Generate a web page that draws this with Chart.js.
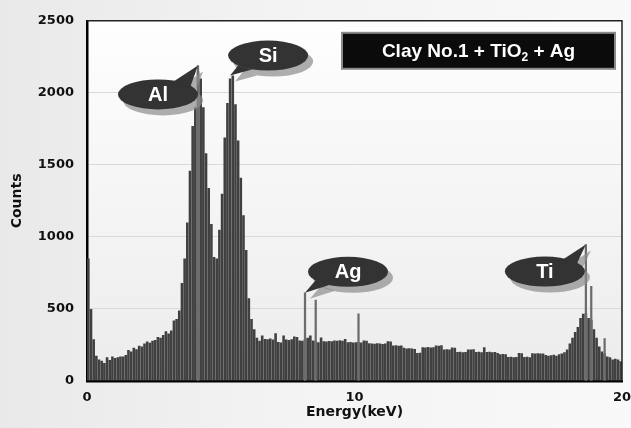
<!DOCTYPE html>
<html>
<head>
<meta charset="utf-8">
<script src="https://cdn.jsdelivr.net/npm/chart.js@4.4.1/dist/chart.umd.min.js"></script>
<style>
  html, body { margin: 0; padding: 0; }
  body { width: 631px; height: 428px; background: linear-gradient(90deg, #e9e9e9 0%, #f3f3f3 45%, #f9f9f9 100%); }
  #wrap { position: relative; width: 631px; height: 428px; }
</style>
</head>
<body>
<div id="wrap"><canvas id="EdsChart" width="631" height="428"></canvas></div>
<script>
// spectrum, 0.1 keV per channel, 0 - 20 keV
var binWidth = 0.1;
var counts = [
    850, 500, 290, 175, 150, 140, 125, 165, 145, 170,
    160, 165, 170, 170, 180, 215, 205, 230, 220, 245,
    240, 260, 275, 265, 280, 285, 305, 300, 320, 345,
    330, 350, 420, 430, 490, 680, 850, 1100, 1460, 1770,
    1900, 2150, 2100, 1900, 1580, 1340, 1090, 860, 850, 1050,
    1300, 1690, 1930, 2100, 2120, 1920, 1670, 1410, 1150, 910,
    575, 430, 360, 300, 280, 315, 292, 290, 295, 288,
    331, 270, 268, 315, 288, 285, 290, 308, 305, 281,
    280, 290, 300, 315, 281, 278, 269, 302, 276, 275,
    278, 276, 281, 280, 283, 279, 292, 269, 270, 268,
    269, 270, 268, 281, 280, 262, 260, 258, 262, 260,
    256, 261, 276, 275, 247, 248, 245, 247, 230, 226,
    228, 226, 222, 194, 196, 235, 233, 236, 232, 235,
    247, 245, 248, 219, 220, 218, 233, 230, 201, 203,
    200, 202, 219, 218, 220, 201, 203, 200, 235, 201,
    203, 200, 202, 195, 185, 187, 185, 166, 168, 165,
    167, 194, 192, 166, 168, 165, 192, 190, 193, 191,
    190, 180, 175, 178, 182, 175, 185, 190, 200, 219,
    260, 301, 340, 375, 438, 466, 470, 438, 425, 360,
    300, 240, 205, 190, 170, 164, 150, 155, 150, 137
];
// narrow lines drawn over the bars
var spikeBins = [41, 81, 85, 101, 186, 188, 193];
var spikeCounts = [2190, 612, 562, 466, 947, 657, 295];

var xTicks = [0, 10, 20];
var yTicks = [0, 500, 1000, 1500, 2000, 2500];

var peakNames = ["Al", "Si", "Ag", "Ti"];
var peakBins = [41, 53, 81, 186];
var peakCounts = [2190, 2120, 612, 947];

var titleText = ["Clay No.1 + TiO", "2", " + Ag"];

// bubble placement (pixels, from the peak top), tail base points relative to bubble centre
var bubbleStyle = [
    { dx: -40, dy: 29, tail: [[14, -12], [32, -7]] },
    { dx: 38, dy: -20, tail: [[-30, 10], [-16, 14]] },
    { dx: 43, dy: -21, tail: [[-32, 8], [-18, 13]] },
    { dx: -41, dy: 27, tail: [[18, -12], [32, -8]] }
];

function binCenter(i) {
    return (i + 0.5) * binWidth;
}

function bubble(ctx, cx, cy, tx, ty, tail, fill) {
    ctx.fillStyle = fill;
    ctx.beginPath();
    ctx.ellipse(cx, cy, 40, 15, 0, 0, Math.PI * 2);
    ctx.fill();
    ctx.beginPath();
    ctx.moveTo(cx + tail[0][0], cy + tail[0][1]);
    ctx.lineTo(tx, ty);
    ctx.lineTo(cx + tail[1][0], cy + tail[1][1]);
    ctx.closePath();
    ctx.fill();
}

var decor = {
    id: "decor",
    beforeDraw: function (chart) {
        var ctx = chart.ctx, a = chart.chartArea;
        var g = ctx.createLinearGradient(0, a.top, 0, a.bottom);
        g.addColorStop(0, "#fefefe");
        g.addColorStop(0.6, "#f3f3f3");
        g.addColorStop(1, "#ececec");
        ctx.save();
        ctx.fillStyle = g;
        ctx.fillRect(a.left, a.top, a.right - a.left, a.bottom - a.top);
        ctx.restore();
    },
    afterDraw: function (chart) {
        var ctx = chart.ctx, a = chart.chartArea;
        var xs = chart.scales.x, ys = chart.scales.y;
        ctx.save();
        // top and right frame
        ctx.strokeStyle = "#222";
        ctx.lineWidth = 1.5;
        ctx.beginPath();
        ctx.moveTo(a.left, a.top);
        ctx.lineTo(a.right, a.top);
        ctx.lineTo(a.right, a.bottom);
        ctx.stroke();

        // callouts
        for (var i = 0; i < peakNames.length; i++) {
            var tx = xs.getPixelForValue(binCenter(peakBins[i]));
            var ty = ys.getPixelForValue(peakCounts[i]);
            var s = bubbleStyle[i];
            var cx = tx + s.dx, cy = ty + s.dy;
            bubble(ctx, cx + 5, cy + 6, tx + 5, ty + 6, s.tail, "rgba(140,140,140,0.7)");
            bubble(ctx, cx, cy, tx, ty, s.tail, "#333333");
            ctx.fillStyle = "#fff";
            ctx.font = "bold 20px 'Liberation Sans', Arial, sans-serif";
            ctx.textAlign = "center";
            ctx.textBaseline = "middle";
            ctx.fillText(peakNames[i], cx, cy + 1);
        }

        // sample label box
        var bx = a.right - 280, by = a.top + 12, bw = 273, bh = 36;
        ctx.fillStyle = "#0b0b0b";
        ctx.fillRect(bx, by, bw, bh);
        ctx.strokeStyle = "#8a8a8a";
        ctx.lineWidth = 2;
        ctx.strokeRect(bx, by, bw, bh);
        var big = "bold 19px 'Liberation Sans', Arial, sans-serif";
        var small = "bold 12px 'Liberation Sans', Arial, sans-serif";
        ctx.font = big;
        var w0 = ctx.measureText(titleText[0]).width;
        var w2 = ctx.measureText(titleText[2]).width;
        ctx.font = small;
        var w1 = ctx.measureText(titleText[1]).width;
        var x0 = bx + bw / 2 - (w0 + w1 + w2) / 2;
        var yMid = by + bh / 2 + 1;
        ctx.fillStyle = "#fff";
        ctx.textAlign = "left";
        ctx.textBaseline = "middle";
        ctx.font = big;
        ctx.fillText(titleText[0], x0, yMid);
        ctx.font = small;
        ctx.fillText(titleText[1], x0 + w0, yMid + 6);
        ctx.font = big;
        ctx.fillText(titleText[2], x0 + w0 + w1, yMid);
        ctx.restore();
    }
};

var tickFont = { family: "'DejaVu Sans', Verdana, sans-serif", size: 13, weight: "bold" };
var titleFont = { family: "'DejaVu Sans', Verdana, sans-serif", size: 14, weight: "bold" };

var EdsChart = new Chart(document.getElementById("EdsChart"), {
    type: "bar",
    data: {
        datasets: [{
            label: "Lines",
            data: spikeBins.map(function (b, i) { return { x: binCenter(b), y: spikeCounts[i] }; }),
            backgroundColor: "#6c6c6c",
            borderWidth: 0,
            grouped: false,
            maxBarThickness: 1.6,
            categoryPercentage: 1,
            barPercentage: 1,
            order: 0
        }, {
            label: "Counts",
            data: counts.map(function (c, i) { return { x: binCenter(i), y: c }; }),
            backgroundColor: "#404040",
            borderWidth: 0,
            grouped: false,
            categoryPercentage: 1,
            barPercentage: 0.97,
            order: 1
        }]
    },
    options: {
        responsive: false,
        animation: false,
        events: [],
        layout: { padding: { left: 0, right: 9, top: 16, bottom: 0 } },
        plugins: { legend: { display: false }, tooltip: { enabled: false } },
        scales: {
            x: {
                type: "linear",
                min: 0,
                max: 20,
                offset: false,
                bounds: "ticks",
                afterBuildTicks: function (scale) {
                    scale.ticks = xTicks.map(function (v) { return { value: v }; });
                },
                afterFit: function (scale) {
                    scale.height = 47;
                    scale.paddingRight = 0;
                },
                grid: { display: false, drawTicks: false },
                border: { display: true, color: "#000", width: 2.5 },
                ticks: {
                    font: tickFont, color: "#111", padding: 9, maxRotation: 0,
                    callback: function (v) { return String(v); }
                },
                title: { display: true, text: "Energy(keV)", font: titleFont, color: "#111", padding: { top: 0, bottom: 7 } }
            },
            y: {
                min: 0,
                max: 2500,
                afterBuildTicks: function (scale) {
                    scale.ticks = yTicks.map(function (v) { return { value: v }; });
                },
                afterFit: function (scale) { scale.width = 87; },
                grid: { color: "#d9d9d9", lineWidth: 1, drawTicks: false },
                border: { display: true, color: "#000", width: 2.5 },
                ticks: {
                    font: tickFont, color: "#111", padding: 13,
                    callback: function (v) { return String(v); }
                },
                title: { display: true, text: "Counts", font: titleFont, color: "#111", padding: { top: 9, bottom: 0 } }
            }
        }
    },
    plugins: [decor]
});
</script>
</body>
</html>
